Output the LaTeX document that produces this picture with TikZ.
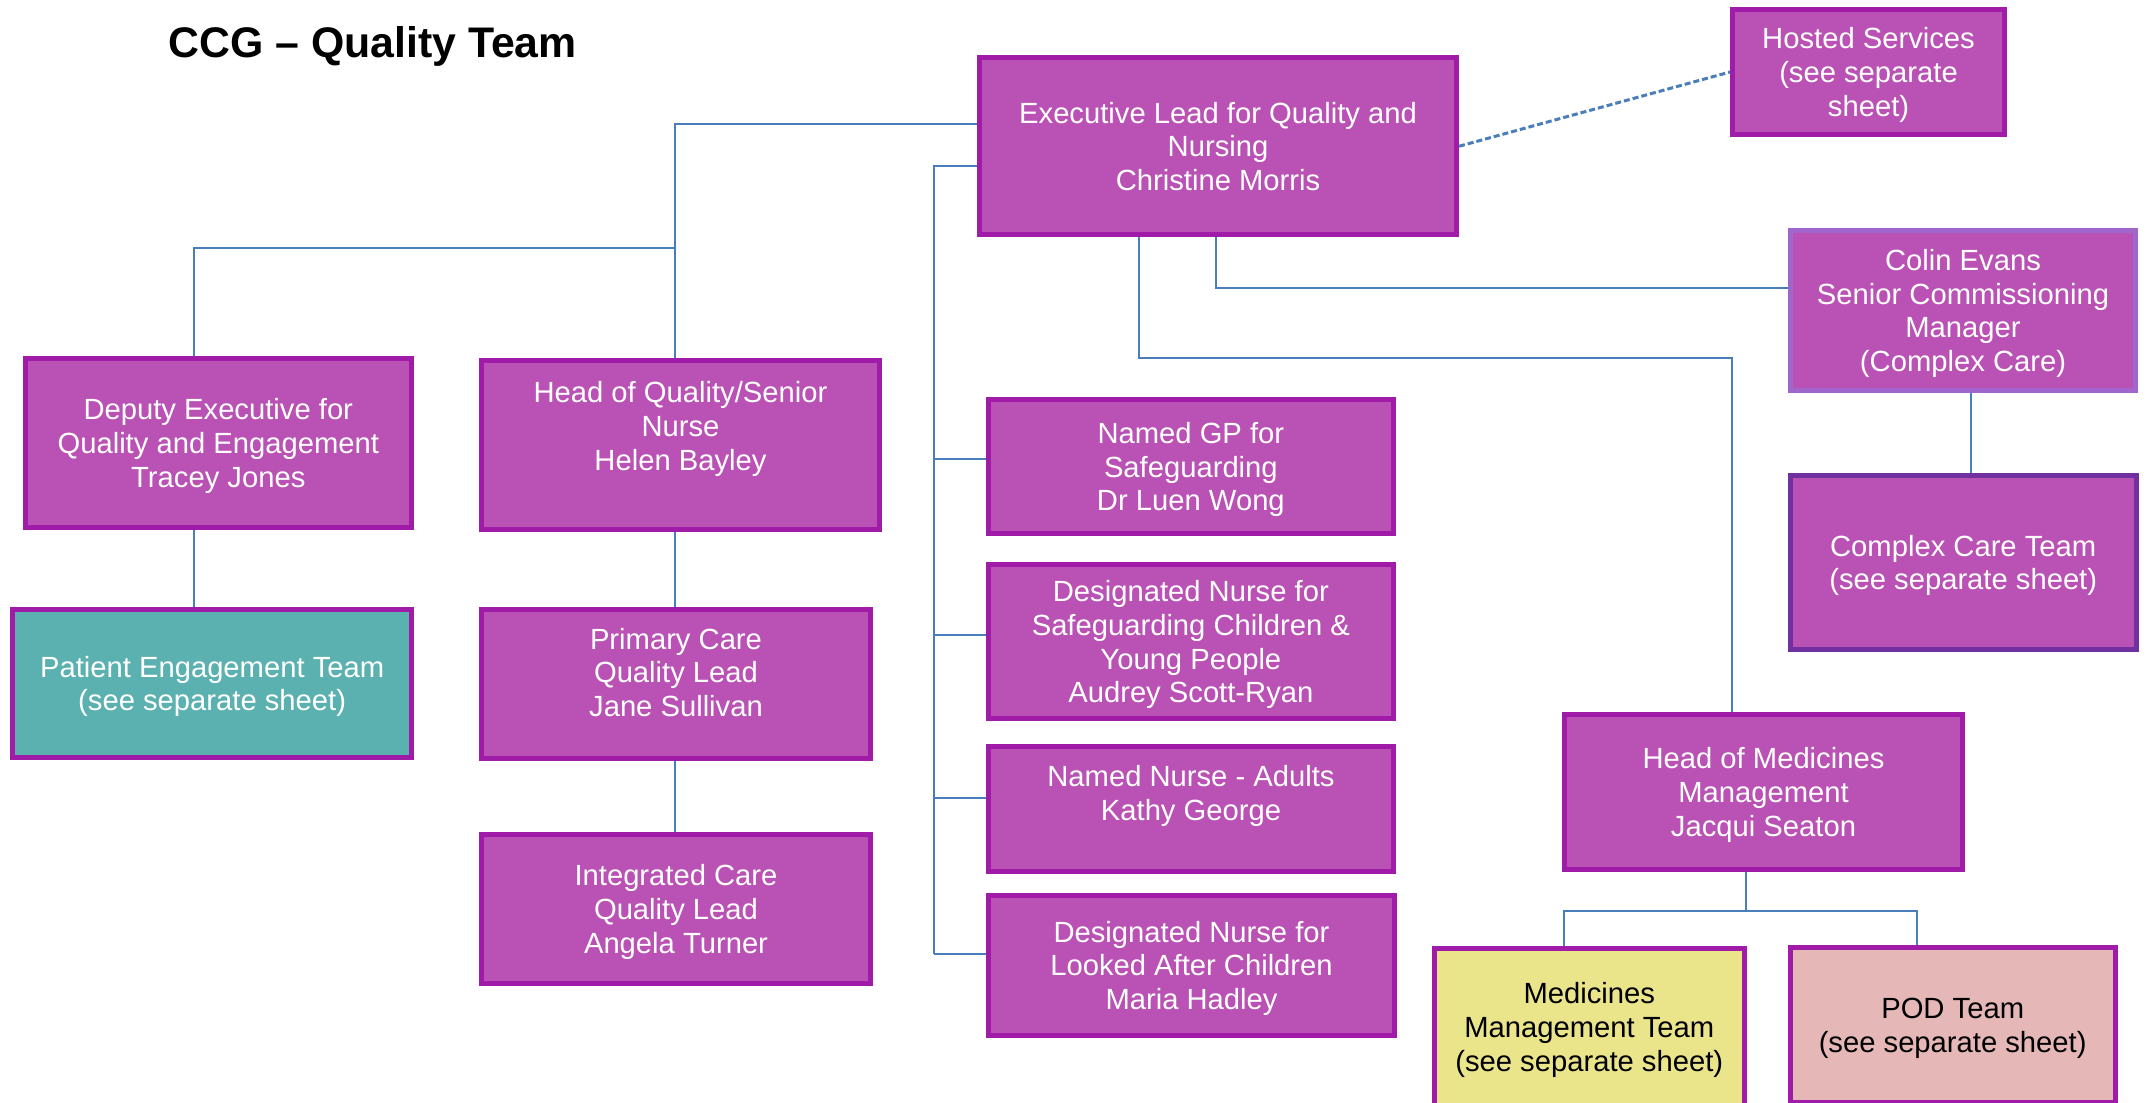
\documentclass[tikz,border=0pt]{standalone}
\usepackage{fontspec}
\setmainfont{Liberation Sans}
\definecolor{postfill}{RGB}{186,82,181}
\definecolor{postline}{RGB}{160,28,168}
\definecolor{linkblue}{RGB}{74,126,187}
\definecolor{tealfill}{RGB}{91,177,175}
\definecolor{yellowfill}{RGB}{234,228,138}
\definecolor{pinkfill}{RGB}{229,183,183}
\definecolor{lavline}{RGB}{160,102,204}
\definecolor{darkline}{RGB}{112,48,160}
\begin{document}
\begin{tikzpicture}[x=0.5pt,y=-0.5pt,
		post/.style={draw=postline, line width=2.5pt, fill=postfill, text=white, align=center, inner sep=0pt, text depth=0pt, font=\fontsize{14.6}{16.85}\selectfont},
		link/.style={linkblue, line width=1pt}]
		\useasboundingbox (0,0) rectangle (2150,1102);
		\clip (0,0) rectangle (2150,1102);
		\node[anchor=base west, inner sep=0pt, font=\fontsize{21.4}{25}\selectfont\bfseries] (title) at (168,58) {CCG -- Quality Team};
		\node[post, minimum width=238.5pt, minimum height=88.25pt] (exec) at (1218,146.25) {Executive Lead for Quality and\\Nursing\\Christine Morris};
		\node[post, minimum width=136pt, minimum height=62.5pt] (hosted) at (1868.5,72) {Hosted Services\\(see separate\\sheet)};
		\node[post, draw=lavline, minimum width=172.5pt, minimum height=80pt] (colin) at (1963,310.5) {Colin Evans\\Senior Commissioning\\Manager\\(Complex Care)};
		\node[post, draw=darkline, minimum width=173pt, minimum height=86.7pt] (cct) at (1963.2,562.5) {Complex Care Team\\(see separate sheet)};
		\node[post, minimum width=193.2pt, minimum height=84.7pt] (dep) at (218.3,442.8) {Deputy Executive for\\Quality and Engagement\\Tracey Jones};
		\node[post, minimum width=199pt, minimum height=84.65pt] (hq) at (680.5,444.85) {Head of Quality/Senior\\Nurse\\Helen Bayley\\[2pt]\mbox{}};
		\node[post, minimum width=202.65pt, minimum height=66.7pt] (gp) at (1190.85,466.5) {Named GP for\\Safeguarding\\Dr Luen Wong};
		\node[post, minimum width=202.65pt, minimum height=76.85pt] (dnc) at (1190.85,641.65) {Designated Nurse for\\Safeguarding Children \&\\Young People\\Audrey Scott-Ryan};
		\node[post, minimum width=202.5pt, minimum height=62.1pt] (nna) at (1191,808.9) {Named Nurse - Adults\\Kathy George\\[-1pt]\mbox{}};
		\node[post, minimum width=203pt, minimum height=69.8pt] (lac) at (1191.5,965.3) {Designated Nurse for\\Looked After Children\\Maria Hadley};
		\node[post, fill=tealfill, minimum width=199.35pt, minimum height=74pt] (pet) at (212.15,683.5) {Patient Engagement Team\\(see separate sheet)};
		\node[post, minimum width=194.5pt, minimum height=74.5pt] (pc) at (676,684) {Primary Care\\Quality Lead\\Jane Sullivan\\[-5pt]\mbox{}};
		\node[post, minimum width=194.5pt, minimum height=74.3pt] (ic) at (676,908.8) {Integrated Care\\Quality Lead\\Angela Turner};
		\node[post, minimum width=199pt, minimum height=77.25pt] (hom) at (1763.5,791.75) {Head of Medicines\\Management\\Jacqui Seaton};
		\node[post, fill=yellowfill, text=black, minimum width=155.25pt, minimum height=78.5pt] (mmt) at (1589.25,1027) {Medicines\\Management Team\\(see separate sheet)};
		\node[post, fill=pinkfill, text=black, minimum width=162.55pt, minimum height=77.5pt] (pod) at (1952.65,1025) {POD Team\\(see separate sheet)};
		\coordinate (jq) at (674.6,123.7);
		\coordinate (jd) at (194,247.7);
		\coordinate (js) at (934,166);
		\coordinate (jc) at (1215.5,288.3);
		\coordinate (jm) at (1138.8,358);
		\coordinate (jn) at (1732,358);
		\coordinate (jx) at (1970.5,430);
		\coordinate (jh) at (1745.5,911);
		\coordinate (jl) at (1564,911);
		\coordinate (jr) at (1917,911);
		\coordinate (sgp) at (934,459);
		\coordinate (sdnc) at (934,635);
		\coordinate (snna) at (934,798);
		\coordinate (slac) at (934,954);
		\draw[link] (exec.west |- jq) -- (jq) -- (hq.north -| jq);
		\draw[link] (jq |- jd) -- (jd) -- (dep.north -| jd);
		\draw[link] (dep.south -| jd) -- (pet.north -| jd);
		\draw[link] (hq.south -| jq) -- (pc.north -| jq);
		\draw[link] (pc.south -| jq) -- (ic.north -| jq);
		\draw[link] (exec.west |- js) -- (js) -- (slac);
		\foreach \b/\n in {sgp/gp, sdnc/dnc, snna/nna, slac/lac}
			\draw[link] (\b) -- (\n.west |- \b);
		\draw[link] (exec.south -| jc) -- (jc) -- (colin.west |- jc);
		\draw[link] (colin.south -| jx) -- (cct.north -| jx);
		\draw[link] (exec.south -| jm) -- (jm) -- (jn) -- (hom.north -| jn);
		\draw[link] (hom.south -| jh) -- (jh);
		\draw[link] (mmt.north -| jl) -- (jl) -- (jr) -- (pod.north -| jr);
		\draw[link, line width=1.5pt, dash pattern=on 3pt off 1.5pt] (exec.east) -- (hosted.west);
\end{tikzpicture}
\end{document}
